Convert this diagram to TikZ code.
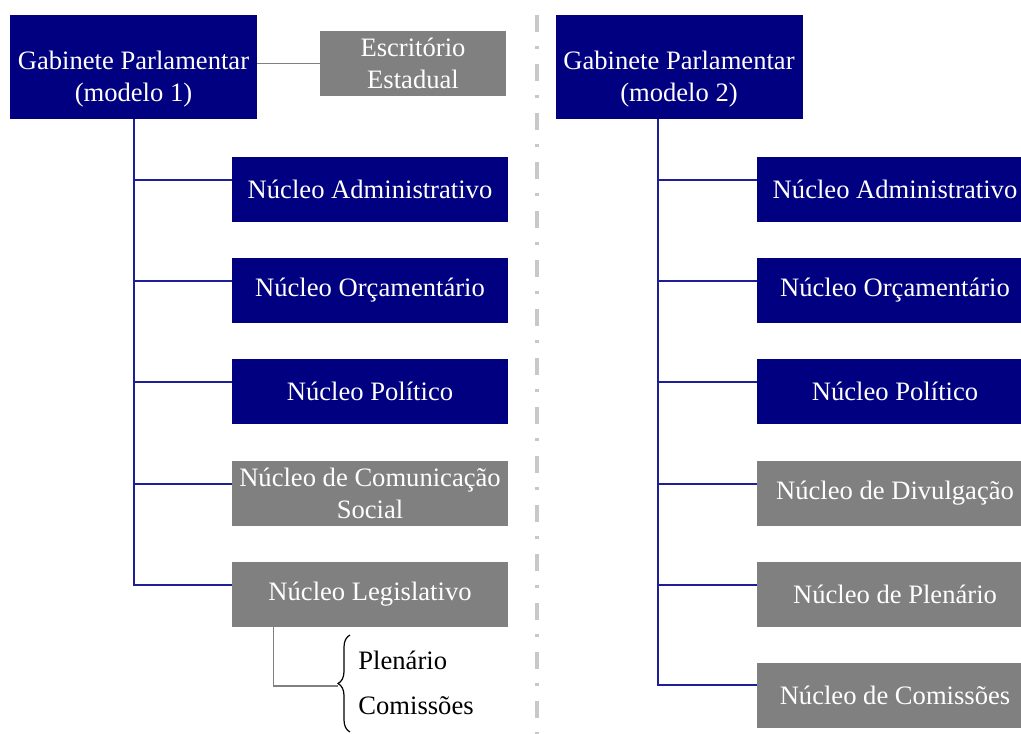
\documentclass[tikz,border=0pt]{standalone}
\usepackage{fontspec}
\setmainfont{Liberation Serif}
\usetikzlibrary{calc,decorations.pathreplacing}
\definecolor{navyB}{RGB}{0,0,128}
\definecolor{greyB}{RGB}{128,128,128}
\definecolor{linkB}{RGB}{30,30,150}
\definecolor{divG}{RGB}{200,200,200}

\begin{document}
\begin{tikzpicture}[x=0.5pt, y=-0.5pt, font=\fontsize{13.3}{16}\selectfont,
  gab/.style={rectangle, fill=navyB, text=white, align=center,
              minimum width=123.5pt, minimum height=52pt, inner sep=0pt},
  nuc/.style={rectangle, fill=navyB, text=white, align=center,
              minimum width=138pt, minimum height=32.5pt, inner sep=0pt},
  nucg/.style={nuc, fill=greyB},
  link/.style={draw=linkB, line width=1pt},
  glink/.style={draw=greyB, line width=0.8pt}]
  \clip (0,0) rectangle (1021,733);
  \fill[white] (0,0) rectangle (1021,733);

  % divider between the two models
  \draw[divG, line width=2pt, dash pattern=on 8.5pt off 7pt on 1.5pt off 7.5pt]
    (537,15) -- (537,740);

  % model 1
  \node[gab] (gab1) at (133.5,67)
    {\raisebox{-6pt}[\height][\depth]{\begin{tabular}{@{}c@{}}Gabinete Parlamentar\\(modelo 1)\end{tabular}}};
  \node[nucg, minimum width=93pt] (esc) at (413,63.5) {Escritório\\Estadual};
  \draw[glink] (esc.west) -- (esc.west -| gab1.east);
  \node[nuc] (adm1) at (370,189.5) {Núcleo Administrativo};
  \node[nuc] (orc1) at (370,290.5) {Núcleo Orçamentário};
  \node[nuc] (pol1) at (370,391.5) {Núcleo Político};
  \node[nucg] (com1) at (370,493.5) {Núcleo de Comunicação\\Social};
  \node[nucg] (leg1) at (370,594.5) {Núcleo Legislativo};
  \draw[link] (gab1.south) |- ($(adm1.north west)+(0,23)$);
  \draw[link] (gab1.south) |- ($(orc1.north west)+(0,23)$);
  \draw[link] (gab1.south) |- ($(pol1.north west)+(0,23)$);
  \draw[link] (gab1.south) |- ($(com1.north west)+(0,23)$);
  \draw[link] (gab1.south) |- ($(leg1.north west)+(0,23)$);

  % legislative split
  \coordinate (brtop) at (350,635);
  \coordinate (brbot) at (350,732);
  \coordinate (brtip) at (338,686);
  \draw[decorate, decoration={brace, amplitude=6pt}, line width=0.6pt]
    (brbot) -- (brtop);
  \draw[glink] ($(leg1.south west)+(42,0)$) |- (brtip);
  \node[anchor=west, inner sep=0pt] (plen) at (358,660) {Plenário};
  \node[anchor=west, inner sep=0pt] (comi) at (358,706) {Comissões};

  % model 2
  \node[gab] (gab2) at (679,67)
    {\raisebox{-6pt}[\height][\depth]{\begin{tabular}{@{}c@{}}Gabinete Parlamentar\\(modelo 2)\end{tabular}}};
  \coordinate (trunk2) at ($(gab2.south west)+(103,0)$);
  \node[nuc] (adm2) at (895,189.5) {Núcleo Administrativo};
  \node[nuc] (orc2) at (895,290.5) {Núcleo Orçamentário};
  \node[nuc] (pol2) at (895,391.5) {Núcleo Político};
  \node[nucg] (div2) at (895,493.5) {Núcleo de Divulgação};
  \node[nucg] (ple2) at (895,594.5) {Núcleo de Plenário};
  \node[nucg] (cms2) at (895,695) {Núcleo de Comissões};
  \draw[link] (trunk2) |- ($(adm2.north west)+(0,23)$);
  \draw[link] (trunk2) |- ($(orc2.north west)+(0,23)$);
  \draw[link] (trunk2) |- ($(pol2.north west)+(0,23)$);
  \draw[link] (trunk2) |- ($(div2.north west)+(0,23)$);
  \draw[link] (trunk2) |- ($(ple2.north west)+(0,23)$);
  \draw[link] (trunk2) |- ($(cms2.north west)+(0,23)$);
\end{tikzpicture}
\end{document}
